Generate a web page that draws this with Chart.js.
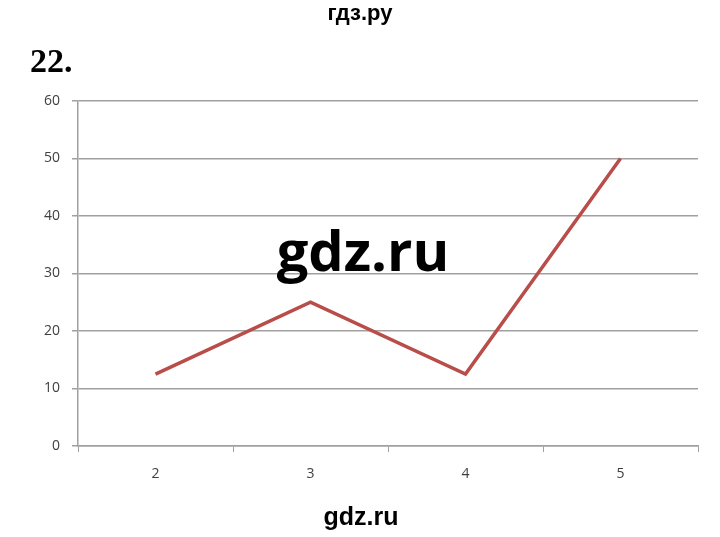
<!DOCTYPE html>
<html>
<head>
<meta charset="utf-8">
<script src="https://cdn.jsdelivr.net/npm/chart.js@4"></script>
<style>
  html, body { margin: 0; padding: 0; background: #fff; }
  body { width: 720px; height: 537px; position: relative; overflow: hidden; }
  #wrap { position: absolute; left: 0; top: 0; width: 720px; height: 537px; }
  .txt { position: absolute; white-space: nowrap; color: #000; }
  #top { left: 0; width: 720px; text-align: center; top: 0px; font: bold 22px "Liberation Sans", Arial, sans-serif; }
  #num { left: 30px; top: 42px; font: bold 34px "Liberation Serif", "DejaVu Serif", serif; }
  #mid { left: 0; width: 726px; text-align: center; top: 211px; font: bold 56px "Open Sans", sans-serif; }
  #bot { left: 0; width: 722px; text-align: center; top: 502px; font: bold 25px "Liberation Sans", Arial, sans-serif; }
</style>
</head>
<body>
<div id="wrap"><canvas id="chart"></canvas></div>
<div class="txt" id="top">гдз.ру</div>
<div class="txt" id="num">22.</div>
<div class="txt" id="mid">gdz.ru</div>
<div class="txt" id="bot">gdz.ru</div>
<script>
  const categories = ["2", "3", "4", "5"];
  const values = [12.5, 25, 12.5, 50];
  const yTicks = [0, 10, 20, 30, 40, 50, 60];

  const gridColor = "#a0a0a0";
  const tickFont = { family: "Open Sans", size: 14 };

  new Chart(document.getElementById("chart"), {
    type: "line",
    data: {
      labels: categories,
      datasets: [{
        data: values,
        borderColor: "#b84d4a",
        borderWidth: 3.5,
        pointRadius: 0,
        tension: 0,
        fill: false
      }]
    },
    options: {
      responsive: true,
      maintainAspectRatio: false,
      animation: false,
      layout: { padding: { left: 26, right: 22, top: 101, bottom: 51 } },
      plugins: { legend: { display: false }, tooltip: { enabled: false } },
      scales: {
        x: {
          offset: true,
          grid: { offset: true, drawOnChartArea: false, drawTicks: true, tickLength: 6, color: gridColor },
          border: { color: gridColor, width: 1.5 },
          ticks: { color: "#404040", font: tickFont, padding: 14 },
          afterFit: (axis) => { axis.height = 40; }
        },
        y: {
          min: 0,
          max: 60,
          afterBuildTicks: (axis) => { axis.ticks = yTicks.map((v) => ({ value: v })); },
          grid: { color: gridColor, lineWidth: 1.5, tickLength: 6 },
          border: { color: gridColor, width: 1.5 },
          ticks: { color: "#404040", font: tickFont, padding: 12 },
          afterFit: (axis) => { axis.width = 52; }
        }
      }
    }
  });
</script>
</body>
</html>
